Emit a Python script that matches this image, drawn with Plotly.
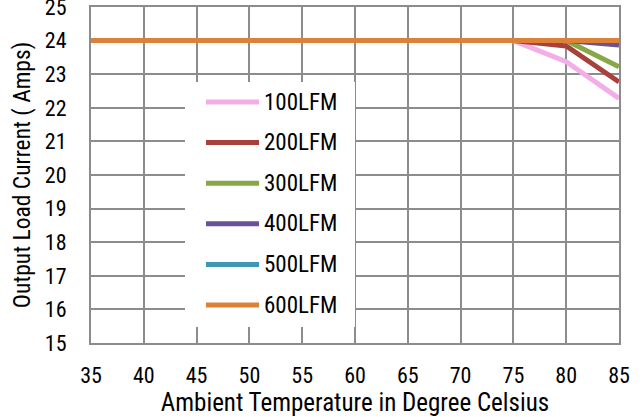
import plotly.graph_objects as go

temps = [35, 40, 45, 50, 55, 60, 65, 70, 75, 80, 85]
series_names = ["100LFM", "200LFM", "300LFM", "400LFM", "500LFM", "600LFM"]
lfm100 = [24, 24, 24, 24, 24, 24, 24, 24, 24, 23.37, 22.28]
lfm200 = [24, 24, 24, 24, 24, 24, 24, 24, 24, 23.84, 22.77]
lfm300 = [24, 24, 24, 24, 24, 24, 24, 24, 24, 24, 23.22]
lfm400 = [24, 24, 24, 24, 24, 24, 24, 24, 24, 24, 23.87]
lfm500 = [24, 24, 24, 24, 24, 24, 24, 24, 24, 24, 24]
lfm600 = [24, 24, 24, 24, 24, 24, 24, 24, 24, 24, 24]
series_values = [lfm100, lfm200, lfm300, lfm400, lfm500, lfm600]
x_ticks = [35, 40, 45, 50, 55, 60, 65, 70, 75, 80, 85]
y_ticks = [15, 16, 17, 18, 19, 20, 21, 22, 23, 24, 25]

colors = ["#F2AEE6", "#A8413C", "#88A845", "#6B5393", "#3D98B0", "#DB8138"]

FONT = "Roboto Condensed, DejaVu Sans Condensed, Liberation Sans Narrow, Roboto, sans-serif"

W, H = 644, 417
L, R, T, B = 91, 25, 7, 74
pw, ph = W - L - R, H - T - B

fig = go.Figure()
for name, vals, col in zip(series_names, series_values, colors):
    fig.add_trace(go.Scatter(x=temps, y=vals, mode="lines", name=name,
                             line=dict(color=col, width=5), showlegend=False))

def px2paper(px, py):
    return (px - L) / pw, (H - B - py) / ph

shapes = []
annotations = []
x0, y0 = px2paper(185, 327)
x1, y1 = px2paper(355, 82)
shapes.append(dict(type="rect", xref="paper", yref="paper", x0=x0, y0=y0, x1=x1, y1=y1,
                   fillcolor="white", line=dict(width=0), layer="above"))
for i, (name, col) in enumerate(zip(series_names, colors)):
    py = 102 + i * 40.6
    ax0, ay = px2paper(206, py)
    ax1, _ = px2paper(259, py)
    shapes.append(dict(type="line", xref="paper", yref="paper", x0=ax0, x1=ax1, y0=ay, y1=ay,
                       line=dict(color=col, width=5), layer="above"))
    tx, _ = px2paper(262, py)
    annotations.append(dict(xref="paper", yref="paper", x=tx, y=ay, text=name, showarrow=False,
                            xanchor="left", yanchor="middle",
                            font=dict(family=FONT, size=23, color="black")))

fig.update_layout(
    width=W, height=H,
    margin=dict(l=L, r=R, t=T, b=B, autoexpand=False),
    paper_bgcolor="white", plot_bgcolor="white",
    showlegend=False,
    shapes=shapes, annotations=annotations,
    font=dict(family=FONT, size=22, color="black"),
)
fig.update_xaxes(range=[35, 85], tickvals=x_ticks, ticktext=[str(v) for v in x_ticks],
                 showgrid=True, gridcolor="#8c8c8c", gridwidth=2,
                 showline=True, linecolor="#8c8c8c", linewidth=2, mirror=True,
                 zeroline=False, ticks="", ticklabelstandoff=12, automargin=False,
                 ticklabeloverflow="allow",
                 tickfont=dict(family=FONT, size=22, color="black"),
                 title=dict(text="Ambient Temperature in Degree Celsius", standoff=6,
                            font=dict(family=FONT, size=25, color="black")))
fig.update_yaxes(range=[15, 25], tickvals=y_ticks, ticktext=[str(v) for v in y_ticks],
                 showgrid=True, gridcolor="#8c8c8c", gridwidth=2,
                 showline=True, linecolor="#8c8c8c", linewidth=2, mirror=True,
                 zeroline=False, ticks="", ticklabelstandoff=18, automargin=False,
                 ticklabeloverflow="allow",
                 tickfont=dict(family=FONT, size=22, color="black"),
                 title=dict(text="Output Load Current ( Amps)", standoff=8,
                            font=dict(family=FONT, size=23.5, color="black")))

fig.write_html("out.html", config={"displayModeBar": False},
               post_script="document.body.style.margin='0';document.body.style.padding='0';")
